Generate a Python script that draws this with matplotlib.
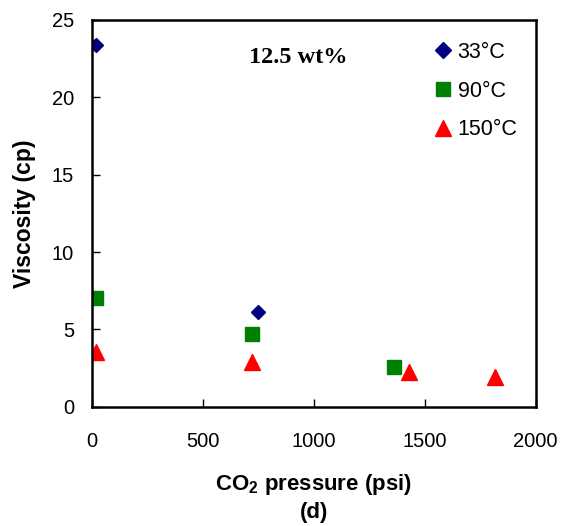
import matplotlib
matplotlib.use("Agg")
import matplotlib.pyplot as plt

plt.rcParams['font.family'] = ['Liberation Sans', 'DejaVu Sans']
plt.rcParams['mathtext.fontset'] = 'custom'
plt.rcParams['mathtext.rm'] = 'Liberation Sans'
plt.rcParams['mathtext.bf'] = 'Liberation Sans:bold'

p33 = [20, 748]
v33 = [23.4, 6.1]
p90 = [20, 720, 1363]
v90 = [7.05, 4.7, 2.55]
p150 = [20, 720, 1428, 1815]
v150 = [3.55, 2.9, 2.25, 1.95]

labels = ['33°C', '90°C', '150°C']
xticks = [0, 500, 1000, 1500, 2000]
yticks = [0, 5, 10, 15, 20, 25]

fig = plt.figure(figsize=(5.62, 5.26), dpi=100)
ax = fig.add_axes([0.1637, 0.2268, 0.953 - 0.1637, 0.962 - 0.2268])

ax.plot(p33, v33, linestyle='none', marker='D', color='#000080', ms=7.5, label=labels[0])
ax.plot(p90, v90, linestyle='none', marker='s', color='#008000', ms=10, label=labels[1])
ax.plot(p150, v150, linestyle='none', marker='^', color='#FF0000', ms=11, label=labels[2])

ax.set_xlim(0, 2000)
ax.set_ylim(0, 25)
ax.set_xticks(xticks)
ax.set_yticks(yticks)
ax.tick_params(direction='in', length=6, width=1, labelsize=14.5)
ax.tick_params(axis='x', pad=18)
ax.tick_params(axis='y', pad=13)
for s in ax.spines.values():
    s.set_linewidth(1.8)

ax.set_ylabel('Viscosity (cp)', fontsize=16.5, fontweight='bold', labelpad=11)
ax.set_xlabel('CO$_\\mathbf{2}$ pressure (psi)\n(d)', fontsize=16, fontweight='bold',
              labelpad=15.5, linespacing=1.3)

ax.text(0.464, 0.904, '12.5 wt%', transform=ax.transAxes, fontsize=17.5, fontweight='bold',
        family='Liberation Serif', ha='center', va='center')

leg = ax.legend(loc='upper left', frameon=False, fontsize=15.5, handletextpad=0.15,
                labelspacing=0.82, handlelength=1.07, borderaxespad=0, borderpad=0,
                bbox_to_anchor=(0.765, 0.943))
leg.legend_handles[0].set_markersize(8.5)

fig.savefig('out.png', dpi=100)
